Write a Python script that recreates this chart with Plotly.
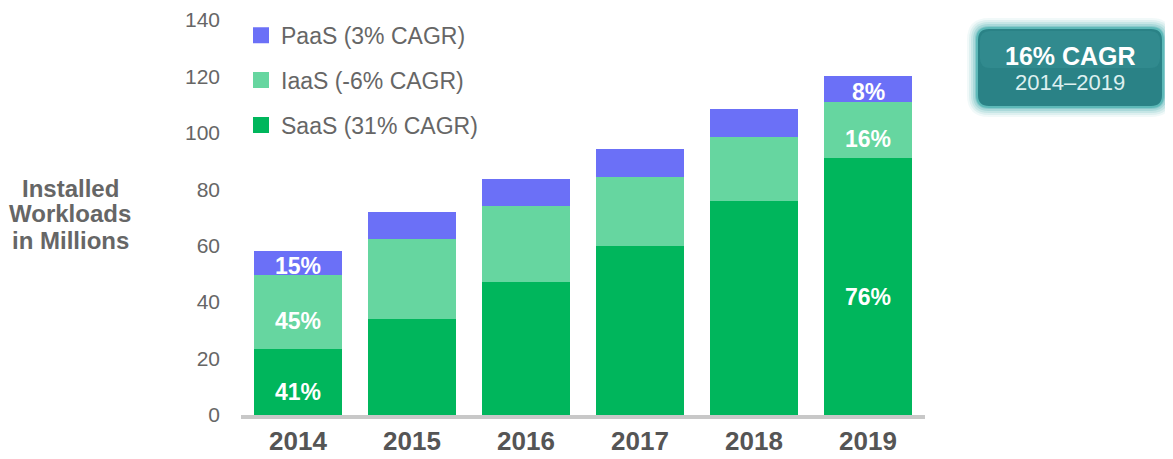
import plotly.graph_objects as go

years = ["2014", "2015", "2016", "2017", "2018", "2019"]
saas = [23.5, 34, 47, 60, 76, 91]
iaas = [26, 28.5, 27, 24.4, 22.5, 19.8]
paas = [8.5, 9.3, 9.7, 9.9, 9.8, 9.5]
saas_lbl = ["41%", "", "", "", "", "76%"]
iaas_lbl = ["45%", "", "", "", "", "16%"]
paas_lbl = ["15%", "", "", "", "", "8%"]
legend_names = ["SaaS (31% CAGR)", "IaaS (-6% CAGR)", "PaaS (3% CAGR)"]
y_ticks = [0, 20, 40, 60, 80, 100, 120, 140]

C_SAAS = "#00B65C"
C_IAAS = "#66D6A0"
C_PAAS = "#6B70F7"

OFF = 8  # page body margin
W, H = 1173 - OFF, 459 - OFF
L, R, T, B = 241 - OFF, 248, 20 - OFF, 44
PW, PH = W - L - R, H - T - B


def px(x):
    return (x - OFF - L) / PW


def py(y):
    return (H - B - (y - OFF)) / PH


fig = go.Figure()
for vals, col in [(saas, C_SAAS), (iaas, C_IAAS), (paas, C_PAAS)]:
    fig.add_trace(go.Bar(
        x=years, y=vals, marker=dict(color=col, line=dict(width=0)),
        showlegend=False, hoverinfo="skip",
    ))

# legend entries
for name, col, grp in [(legend_names[2], C_PAAS, "a"), (legend_names[1], C_IAAS, "b"), (legend_names[0], C_SAAS, "c")]:
    fig.add_trace(go.Scatter(
        x=[None], y=[None], mode="markers", name=name, legendgroup=grp,
        marker=dict(symbol="square", size=20, color=col),
    ))

annotations = []
lab_font = dict(family="Liberation Sans, Arial", size=23, color="white")
for i, yr in enumerate(years):
    base = 0
    for vals, lbls, shift in [(saas, saas_lbl, -10), (iaas, iaas_lbl, -9), (paas, paas_lbl, -3)]:
        if lbls[i]:
            annotations.append(dict(text=f"<b>{lbls[i]}</b>", x=yr, y=base + vals[i] / 2,
                                    xref="x", yref="y", yshift=shift, showarrow=False,
                                    font=lab_font))
        base += vals[i]

shapes = []


def rrect(x0, y0, x1, y1, r):
    pts = []
    pts.append(f"M{px(x0 + r)},{py(y0)}")
    pts.append(f"L{px(x1 - r)},{py(y0)}")
    pts.append(f"Q{px(x1)},{py(y0)} {px(x1)},{py(y0 + r)}")
    pts.append(f"L{px(x1)},{py(y1 - r)}")
    pts.append(f"Q{px(x1)},{py(y1)} {px(x1 - r)},{py(y1)}")
    pts.append(f"L{px(x0 + r)},{py(y1)}")
    pts.append(f"Q{px(x0)},{py(y1)} {px(x0)},{py(y1 - r)}")
    pts.append(f"L{px(x0)},{py(y0 + r)}")
    pts.append(f"Q{px(x0)},{py(y0)} {px(x0 + r)},{py(y0)}")
    return " ".join(pts) + " Z"


bx0, by0, bx1, by1 = 977, 28, 1163, 107
for i, op in enumerate([0.07, 0.1, 0.14, 0.2, 0.3]):
    d = 10 - i * 2
    shapes.append(dict(type="path", xref="paper", yref="paper",
                       path=rrect(bx0 - d, by0 - d, bx1 + d, by1 + d, 12 + d),
                       fillcolor="#3AA7A9", opacity=op, line=dict(width=0)))
shapes.append(dict(type="path", xref="paper", yref="paper",
                   path=rrect(bx0, by0, bx1, by1, 12),
                   fillcolor="#2A8286", line=dict(color="#5DB9B8", width=2)))
shapes.append(dict(type="path", xref="paper", yref="paper",
                   path=rrect(bx0 + 3, by0 + 3, bx1 - 3, by0 + 40, 10),
                   fillcolor="#3A9598", opacity=0.45, line=dict(width=0)))

annotations += [
    dict(text="<b>16% CAGR</b>", x=px(1070), y=py(56), xref="paper", yref="paper",
         xanchor="center", yanchor="middle", showarrow=False,
         font=dict(family="Liberation Sans, Arial", size=25, color="white")),
    dict(text="2014–2019", x=px(1070), y=py(83), xref="paper", yref="paper",
         xanchor="center", yanchor="middle", showarrow=False,
         font=dict(family="Liberation Sans, Arial", size=22, color="#DDF0F0")),
]
for t, yy in [("Installed", 189), ("Workloads", 214), ("in Millions", 240)]:
    annotations.append(dict(text=f"<b>{t}</b>", x=px(70), y=py(yy), xref="paper", yref="paper",
                            xanchor="center", yanchor="middle", showarrow=False,
                            font=dict(family="Liberation Sans, Arial", size=24, color="#666666")))

fig.update_layout(
    template="none",
    width=W, height=H, margin=dict(l=L, r=R, t=T, b=B, autoexpand=False),
    barmode="stack", bargap=0.23,
    plot_bgcolor="white", paper_bgcolor="white",
    font=dict(family="Liberation Sans, Arial", color="#666666"),
    shapes=shapes, annotations=annotations,
    legend=dict(x=0.0, y=1.016, xanchor="left", yanchor="top",
                font=dict(size=23, color="#666666"), tracegroupgap=12,
                itemsizing="trace", bgcolor="rgba(0,0,0,0)"),
    xaxis=dict(showline=True, linecolor="#C8C8C8", linewidth=4, automargin=False,
               tickfont=dict(size=26, color="#555555", family="Liberation Sans, Arial"),
               ticks="", showgrid=False, zeroline=False,
               tickprefix="<b>", ticksuffix="</b>"),
    yaxis=dict(range=[0, 140], tickvals=y_ticks, showgrid=False, zeroline=False,
               ticks="", showline=False, ticklabelstandoff=20, automargin=False,
               ticklabeloverflow="allow",
               tickfont=dict(size=21, color="#666666")),
)

fig.write_html("out.html")
